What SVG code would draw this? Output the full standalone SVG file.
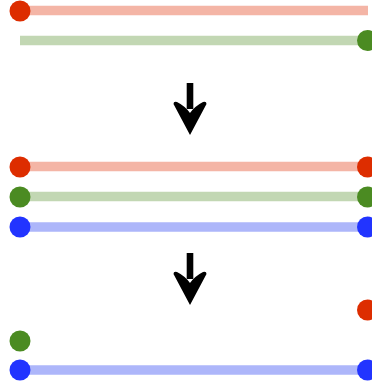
<svg xmlns="http://www.w3.org/2000/svg" width="372" height="390" viewBox="0 0 372 390">
<style>
.bg{fill:#ffffff}
.lr{stroke:#f4b5a6;stroke-width:9.5;fill:none}
.lg{stroke:#c2d7b3;stroke-width:9.5;fill:none}
.lb{stroke:#adb6fa;stroke-width:9.5;fill:none}
.r{fill:#dd2d00}
.g{fill:#4b8b22}
.b{fill:#2234ff}
.shaft{fill:#000}
</style>
<defs>
<g id="arrow">
<rect class="shaft" x="186.7" y="0" width="6.6" height="26"/>
<path class="shaft" d="M190,52 L173.5,21 Q173.5,18 177,19 Q185,23 190,30 Q195,23 203,19 Q206.5,18 206.5,21 Z"/>
</g>
</defs>
<rect class="bg" x="0" y="0" width="372" height="390"/>
<g id="connectors">
<line class="lr" x1="20" y1="10.5" x2="368" y2="10.5"/>
<line class="lg" x1="20" y1="40.5" x2="367" y2="40.5"/>
<line class="lr" x1="20" y1="166.5" x2="367" y2="166.5"/>
<line class="lg" x1="20" y1="196.5" x2="367" y2="196.5"/>
<line class="lb" x1="20" y1="227" x2="367" y2="227"/>
<line class="lb" x1="20" y1="370" x2="367" y2="370"/>
</g>
<g id="arrows">
<use href="#arrow" x="0" y="83"/>
<use href="#arrow" x="0" y="253"/>
</g>
<g id="n-top-red-left"><circle class="r" cx="20" cy="11" r="10.5"/></g>
<g id="n-top-green-right"><circle class="g" cx="367.5" cy="40.5" r="10.5"/></g>
<g id="n-mid-red-left"><circle class="r" cx="20" cy="167" r="10.5"/></g>
<g id="n-mid-green-left"><circle class="g" cx="20" cy="197" r="10.5"/></g>
<g id="n-mid-blue-left"><circle class="b" cx="20" cy="227" r="10.5"/></g>
<g id="n-mid-red-right"><circle class="r" cx="367.5" cy="167" r="10.5"/></g>
<g id="n-mid-green-right"><circle class="g" cx="367.5" cy="197" r="10.5"/></g>
<g id="n-mid-blue-right"><circle class="b" cx="367.5" cy="227" r="10.5"/></g>
<g id="n-bot-red-right"><circle class="r" cx="367.5" cy="310" r="10.5"/></g>
<g id="n-bot-green-left"><circle class="g" cx="20" cy="341" r="10.5"/></g>
<g id="n-bot-blue-left"><circle class="b" cx="20" cy="370" r="10.5"/></g>
<g id="n-bot-blue-right"><circle class="b" cx="367.5" cy="370" r="10.5"/></g>
</svg>
